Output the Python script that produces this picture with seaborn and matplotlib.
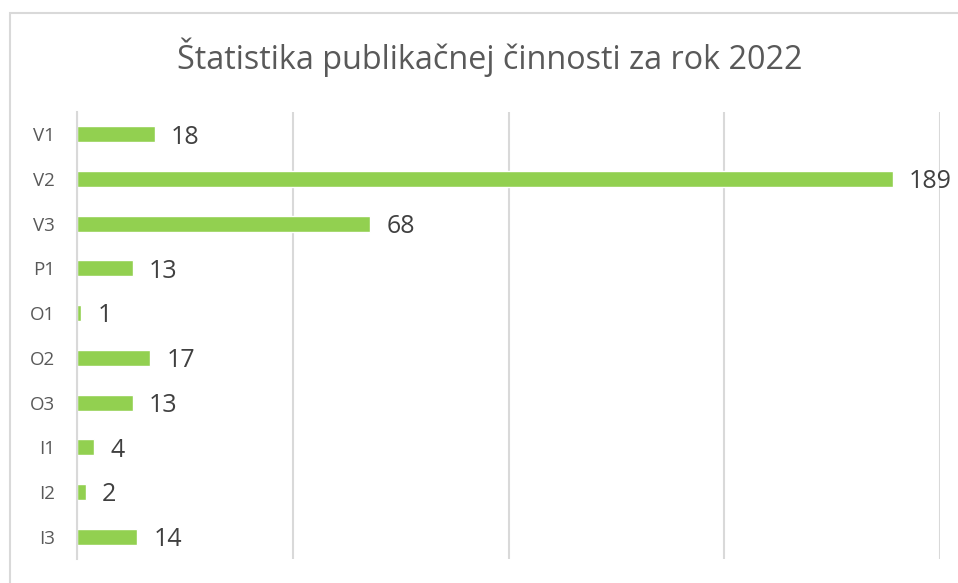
import pandas as pd
import matplotlib.pyplot as plt
import seaborn as sns
from matplotlib.patches import Rectangle


# data
categories = ["V1", "V2", "V3", "P1", "O1", "O2", "O3", "I1", "I2", "I3"]
counts = [18, 189, 68, 13, 1, 17, 13, 4, 2, 14]
title = "Štatistika publikačnej činnosti za rok 2022"

df = pd.DataFrame({"category": categories, "count": counts})

sns.set_style("white")
plt.rcParams['font.family'] = ['Open Sans', 'DejaVu Sans']

fig = plt.figure(figsize=(9.58, 5.83), dpi=100)
ax = fig.add_axes([77 / 958, 1 - 559 / 583, (940 - 77) / 958, (559 - 112) / 583])

sns.barplot(data=df, x="count", y="category", orient="h", color="#92D050",
            saturation=1, width=0.36, ax=ax)

ax.set_xlim(0, 200)
ax.set_ylim(len(categories) - 0.5, -0.5)
ax.set_xticks([0, 50, 100, 150, 200])
ax.xaxis.grid(True, color="#D9D9D9", linewidth=1.5)
ax.set_axisbelow(True)
ax.tick_params(axis="x", labelbottom=False, length=0)
ax.tick_params(axis="y", length=0, pad=16, labelsize=13.5, labelcolor="#595959")
ax.set_xlabel("")
ax.set_ylabel("")
for side in ["top", "right", "bottom"]:
    ax.spines[side].set_visible(False)
ax.spines["left"].set_color("#D9D9D9")
ax.spines["left"].set_linewidth(1.5)

# value labels
for i, v in enumerate(counts):
    ax.annotate(str(v), xy=(v, i), xytext=(11.5, -2), textcoords="offset points",
                ha="left", va="center", fontsize=18, color="#404040")

fig.text(490 / 958, 1 - 57 / 583, title, ha="center", va="center",
         fontsize=23.3, color="#595959")

# chart border
fig.add_artist(Rectangle((10 / 958, -0.1), 1, 1 - 13 / 583 + 0.1,
                         transform=fig.transFigure, fill=False,
                         edgecolor="#D9D9D9", linewidth=1.5))

fig.savefig("out.png", dpi=100)
